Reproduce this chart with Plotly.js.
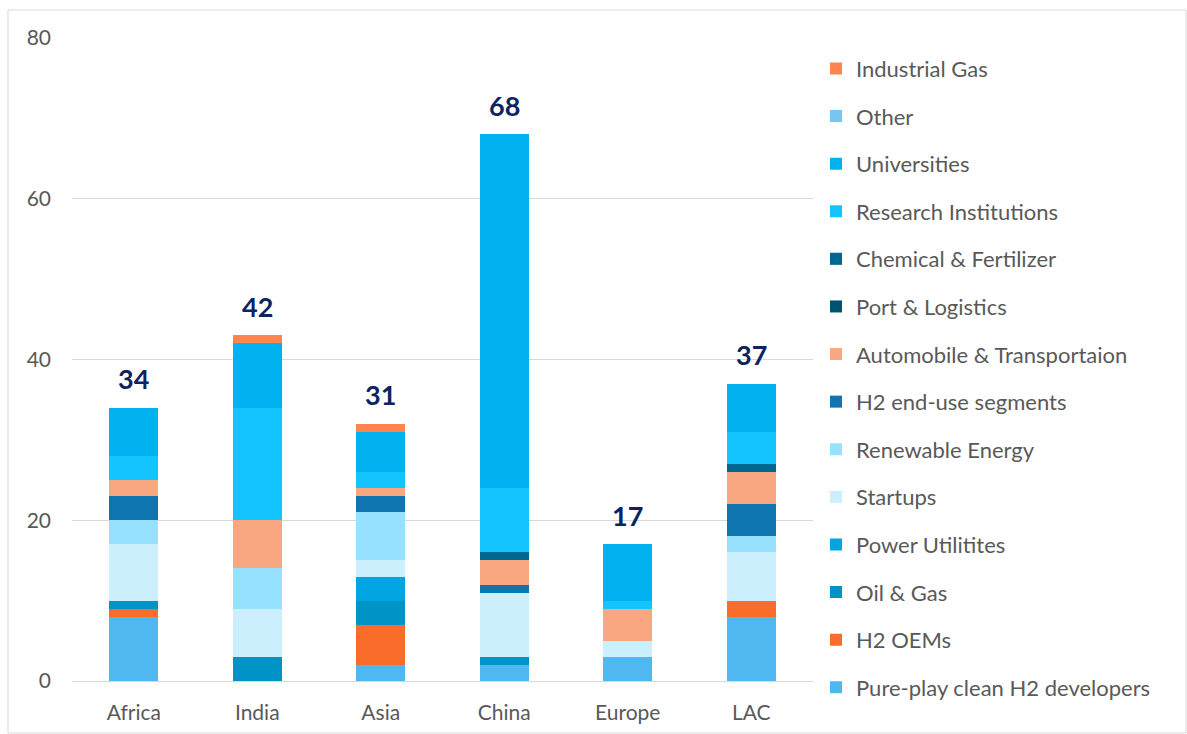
<!DOCTYPE html>
<html>
<head>
<meta charset="utf-8">
<script src="https://cdn.plot.ly/plotly-3.0.1.min.js"></script>
<style>
  html, body { margin: 0; padding: 0; background: #ffffff; }
  #chart { width: 1187px; height: 734px; }
</style>
</head>
<body>
<div id="chart"></div>
<script>
// Regions on the x axis
const regions = ["Africa", "India", "Asia", "China", "Europe", "LAC"];

// Number of organisations per segment, listed bottom-to-top of each stack
const pureplayH2 = [8, 0, 2, 2, 3, 8];
const h2Oems = [1, 0, 5, 0, 0, 2];
const oilGas = [1, 3, 3, 1, 0, 0];
const powerUtilities = [0, 0, 3, 0, 0, 0];
const startups = [7, 6, 2, 8, 2, 6];
const renewableEnergy = [3, 5, 6, 0, 0, 2];
const h2EndUse = [3, 0, 2, 1, 0, 4];
const automobileTransport = [2, 6, 1, 3, 4, 4];
const portLogistics = [0, 0, 0, 0, 0, 0];
const chemicalFertilizer = [0, 0, 0, 1, 0, 1];
const researchInstitutions = [3, 14, 2, 8, 1, 4];
const universities = [6, 8, 5, 44, 7, 6];
const other = [0, 0, 0, 0, 0, 0];
const industrialGas = [0, 1, 1, 0, 0, 0];

// Totals printed above the bars
const totalLabels = [34, 42, 31, 68, 17, 37];

const seriesNames = [
  "Pure-play clean H2 developers", "H2 OEMs", "Oil & Gas", "Power Utilitites",
  "Startups", "Renewable Energy", "H2 end-use segments", "Automobile & Transportaion",
  "Port & Logistics", "Chemical & Fertilizer", "Research Institutions",
  "Universities", "Other", "Industrial Gas"
];
const seriesValues = [
  pureplayH2, h2Oems, oilGas, powerUtilities, startups, renewableEnergy, h2EndUse,
  automobileTransport, portLogistics, chemicalFertilizer, researchInstitutions,
  universities, other, industrialGas
];
const seriesColors = [
  "#4FB8F0", "#F96C2A", "#0093C6", "#00A5E2", "#CCEFFD", "#96E2FE", "#0E75B0",
  "#F9A780", "#005272", "#006890", "#14C4FF", "#00B3F0", "#75C5F5", "#FF8550"
];

const FONT = "Lato, 'Open Sans', sans-serif";
const n = seriesNames.length;

// Legend lists the top of the stack first
const traces = seriesNames.map((name, i) => ({
  type: "bar",
  name: name,
  x: regions,
  y: seriesValues[i],
  legendgroup: "g" + i,
  legendrank: n - i,
  marker: { color: seriesColors[i], line: { width: 0 } },
  hoverinfo: "name+y"
}));

// Height of each stack, used to position the total labels
const stackTops = regions.map((_, j) => seriesValues.reduce((s, arr) => s + arr[j], 0));

const annotations = regions.map((r, j) => ({
  x: r,
  y: stackTops[j],
  xref: "x",
  yref: "y",
  text: String(totalLabels[j]),
  showarrow: false,
  yanchor: "middle",
  yshift: 29,
  font: { family: FONT, size: 27, color: "#0B2461", weight: "bold" }
}));

const layout = {
  width: 1187,
  height: 734,
  paper_bgcolor: "#ffffff",
  plot_bgcolor: "#ffffff",
  barmode: "stack",
  bargap: 0.6,
  margin: { l: 72, r: 374, t: 38, b: 53 },
  font: { family: FONT, size: 21, color: "#595959" },
  xaxis: {
    type: "category",
    showgrid: false,
    showline: false,
    zeroline: false,
    ticks: "",
    ticklabelstandoff: 17,
    tickfont: { family: FONT, size: 21, color: "#595959" }
  },
  yaxis: {
    range: [0, 80],
    dtick: 20,
    showgrid: true,
    gridcolor: "#D9D9D9",
    gridwidth: 1,
    zeroline: true,
    zerolinecolor: "#D9D9D9",
    zerolinewidth: 1,
    showline: false,
    ticks: "",
    ticklabelstandoff: 20,
    tickfont: { family: FONT, size: 21, color: "#595959" }
  },
  legend: {
    x: (816 - 72) / 741,
    xanchor: "left",
    y: 0.985,
    yanchor: "top",
    traceorder: "grouped",
    tracegroupgap: 16,
    maxheight: 734,
    font: { family: FONT, size: 22, color: "#595959" },
    bgcolor: "rgba(0,0,0,0)"
  },
  annotations: annotations,
  shapes: [{
    type: "rect",
    xref: "paper",
    yref: "paper",
    x0: (8 - 72) / 741,
    x1: (1186 - 72) / 741,
    y0: (681 - 733) / 643,
    y1: (681 - 10) / 643,
    line: { color: "#D9D9D9", width: 1 },
    fillcolor: "rgba(0,0,0,0)",
    layer: "below"
  }]
};

Plotly.newPlot("chart", traces, layout, { displayModeBar: false, staticPlot: true });
</script>
</body>
</html>
